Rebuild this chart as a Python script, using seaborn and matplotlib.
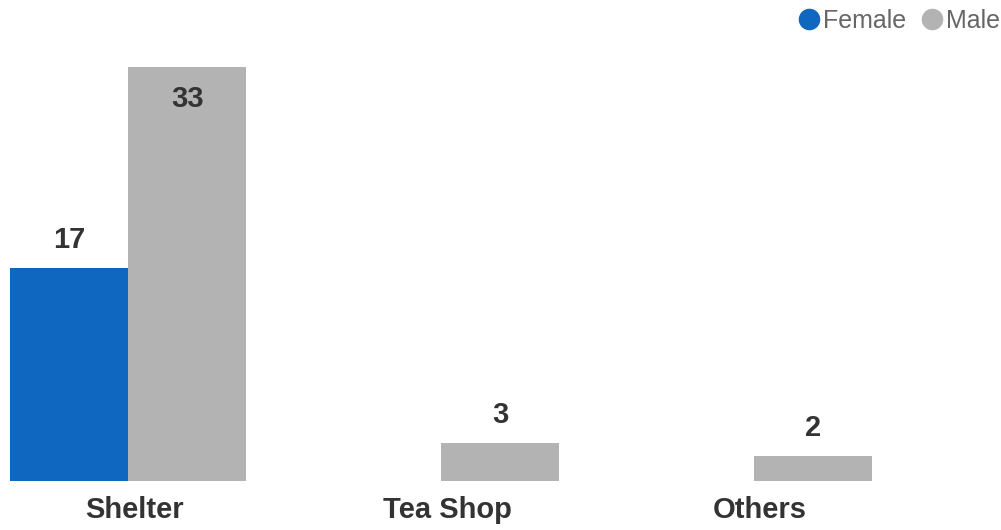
import matplotlib
matplotlib.use('Agg')
import matplotlib.pyplot as plt
import matplotlib.transforms as mtransforms
from matplotlib.lines import Line2D
import pandas as pd
import seaborn as sns

# chart data
categories = ["Shelter", "Tea Shop", "Others"]
genders = ["Female", "Male"]
female_values = [17, None, None]
male_values = [33, 3, 2]

colors = {"Female": "#0F67BF", "Male": "#B3B3B3"}

rows = []
for cat, f, m in zip(categories, female_values, male_values):
    if f is not None:
        rows.append({"place": cat, "gender": "Female", "count": f})
    if m is not None:
        rows.append({"place": cat, "gender": "Male", "count": m})
df = pd.DataFrame(rows)

sns.set_theme(style="white")
plt.rcParams['font.family'] = ['Liberation Sans', 'DejaVu Sans']

fig = plt.figure(figsize=(10.01, 5.30), dpi=100)
ax = fig.add_axes([0, 1 - 481 / 530, 1, 441 / 530])

sns.barplot(data=df, x="place", y="count", hue="gender", order=categories,
            hue_order=genders, palette=colors, width=0.754, gap=0,
            saturation=1, linewidth=0, errorbar=None, legend=False, ax=ax)

ax.set_xlim(-0.409, 2.789)
ax.set_ylim(0, 35.14)

# value labels: above the bar, or inside when it would hit the top
for container in ax.containers:
    for bar in container:
        h = bar.get_height()
        if pd.isna(h) or h == 0:
            continue
        cx = bar.get_x() + bar.get_width() / 2
        if h > 30:
            ax.annotate(f"{h:.0f}", (cx, h), xytext=(0, -13), textcoords="offset points",
                        ha="center", va="top", fontsize=21, fontweight="bold", color="#333333")
        else:
            ax.annotate(f"{h:.0f}", (cx, h), xytext=(0, 10), textcoords="offset points",
                        ha="center", va="bottom", fontsize=21, fontweight="bold", color="#333333")

ax.set_xlabel("")
ax.set_ylabel("")
ax.set_yticks([])
ax.tick_params(axis="x", length=0, pad=11, labelsize=21, labelcolor="#333333")
for lbl in ax.get_xticklabels():
    lbl.set_fontweight("bold")
    lbl.set_transform(lbl.get_transform() + mtransforms.ScaledTranslation(6 / 100, 0, fig.dpi_scale_trans))
sns.despine(ax=ax, left=True, bottom=True)

handles = [Line2D([0], [0], marker="o", linestyle="", markersize=14.5,
                  markerfacecolor=colors[g], markeredgecolor=colors[g]) for g in genders]
leg = fig.legend(handles, genders, loc="center right", bbox_to_anchor=(1000 / 1001, 1 - 21 / 530),
                 ncol=2, frameon=False, fontsize=18, handletextpad=0.16, columnspacing=0.64,
                 handlelength=0.8, borderpad=0, borderaxespad=0, labelcolor="#666666")

fig.savefig("out.png", dpi=100)
